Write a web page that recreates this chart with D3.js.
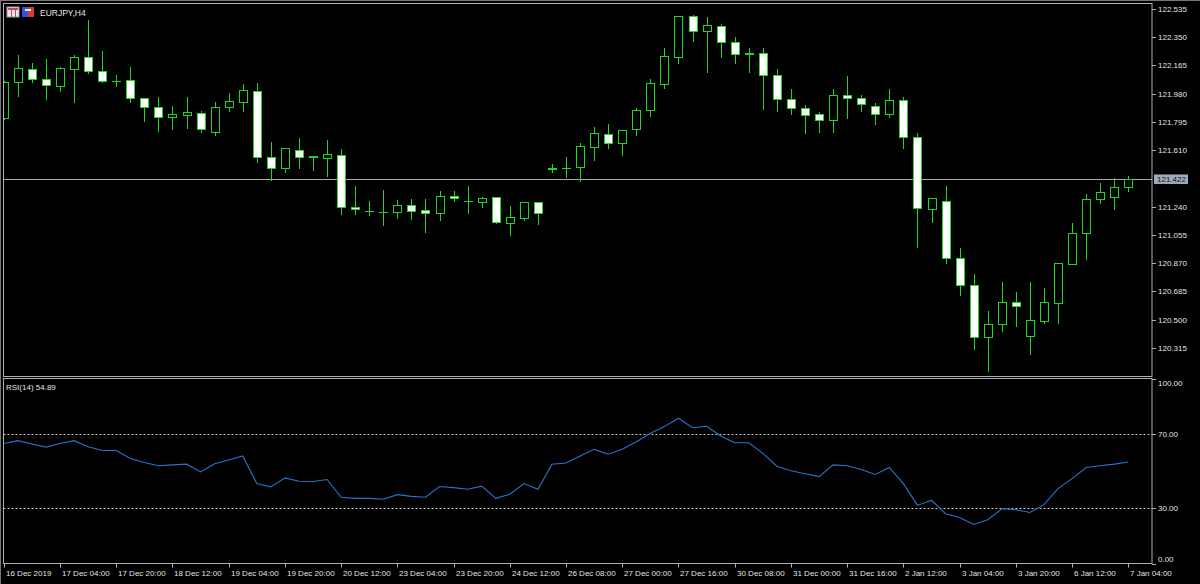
<!DOCTYPE html>
<html>
<head>
    <meta charset="utf-8">
    <title>EURJPY,H4</title>
    <style>
        body{margin:0;background:#000;}
        svg{display:block;}
        text{font-family:"Liberation Sans",Arial,sans-serif;font-size:8px;fill:#e4e4e4;}
    </style>
</head>
<body>
    <svg width="1200" height="584"></svg>
    <script src="https://d3js.org/d3.v7.min.js"></script>
    <script>
        // EURJPY H4, 16 Dec 2019 12:00 .. 7 Jan 2020 04:00 (81 bars)
        const openP = [121.819,122.055,122.142,122.075,122.033,122.142,122.219,122.131,122.066,122.070,
            121.954,121.891,121.826,121.843,121.856,121.728,121.891,121.928,122.000,121.564,
            121.492,121.610,121.570,121.561,121.579,121.236,121.214,121.208,121.204,121.252,
            121.219,121.201,121.310,121.280,121.273,121.302,121.136,121.168,121.269,121.492,
            121.496,121.502,121.633,121.716,121.660,121.751,121.872,122.046,122.223,122.489,
            122.389,122.426,122.317,122.245,122.245,122.103,121.948,121.885,121.846,121.810,
            121.970,121.954,121.900,121.846,121.937,121.699,121.223,121.276,120.902,120.728,
            120.389,120.470,120.618,120.396,120.494,120.612,120.865,121.066,121.291,121.302,
            121.371];
        const highP = [122.062,122.234,122.180,122.206,122.157,122.234,122.463,122.260,122.103,122.157,
            121.954,121.961,121.900,121.957,121.869,121.928,121.983,122.044,122.049,121.666,
            121.623,121.692,121.572,121.675,121.616,121.376,121.278,121.350,121.284,121.289,
            121.293,121.345,121.345,121.376,121.306,121.304,121.245,121.270,121.270,121.520,
            121.568,121.660,121.764,121.782,121.744,121.885,122.075,122.278,122.490,122.496,
            122.485,122.435,122.350,122.278,122.278,122.140,122.013,121.906,121.863,122.009,
            122.094,121.970,121.921,122.013,121.959,121.725,121.300,121.376,120.968,120.798,
            120.557,120.745,120.680,120.745,120.706,120.872,121.132,121.322,121.398,121.430,
            121.441];
        const lowP = [121.815,121.967,122.059,121.944,122.000,121.924,122.118,122.055,122.033,121.928,
            121.804,121.738,121.747,121.758,121.728,121.710,121.869,121.869,121.531,121.415,
            121.470,121.496,121.481,121.443,121.193,121.193,121.186,121.121,121.168,121.160,
            121.077,121.153,121.278,121.197,121.240,121.136,121.055,121.153,121.127,121.470,
            121.437,121.411,121.546,121.627,121.579,121.710,121.836,122.020,122.183,122.328,
            122.121,122.219,122.183,122.121,121.878,121.867,121.847,121.721,121.732,121.728,
            121.819,121.869,121.782,121.826,121.627,120.974,121.142,120.870,120.662,120.306,
            120.164,120.428,120.461,120.276,120.481,120.477,120.864,120.896,121.263,121.227,
            121.345];
        const closeP = [122.059,122.147,122.075,122.037,122.147,122.219,122.131,122.064,122.064,121.954,
            121.891,121.826,121.846,121.859,121.747,121.891,121.931,122.005,121.564,121.492,
            121.623,121.568,121.568,121.587,121.236,121.223,121.212,121.206,121.253,121.214,
            121.201,121.310,121.297,121.279,121.299,121.138,121.171,121.269,121.197,121.486,
            121.495,121.638,121.721,121.660,121.743,121.874,122.049,122.227,122.489,122.391,
            122.428,122.317,122.240,122.243,122.103,121.948,121.885,121.843,121.810,121.970,
            121.954,121.915,121.846,121.937,121.699,121.230,121.299,120.902,120.728,120.389,
            120.470,120.618,120.592,120.498,120.614,120.870,121.070,121.293,121.337,121.371,
            121.422];
        const rsi = [64.9,66.4,64.6,62.9,64.9,66.4,63.1,61.1,61.1,56.8,
            54.6,52.8,53.3,53.7,49.5,53.9,55.9,58.1,43.2,41.4,
            46.3,44.5,44.3,45.4,35.8,35.2,35.2,34.7,37.2,36.3,
            35.8,41.6,41.0,40.1,41.8,35.2,37.4,43.2,40.1,53.7,
            54.3,58.1,61.7,59.1,61.7,65.8,70.4,74.0,78.5,73.4,
            74.2,68.9,65.3,65.3,59.5,52.6,50.1,48.5,47.0,53.3,
            52.8,50.8,48.1,51.9,43.2,31.4,34.2,26.9,24.9,21.1,
            23.7,29.6,29.1,27.6,31.8,40.5,45.9,51.9,52.8,53.7,
            54.89];
        const priceTicks = [122.535,122.350,122.165,121.980,121.795,121.610,121.240,121.055,120.870,120.685,120.500,120.315];
        const lastPrice = 121.422;
        const rsiTicks = [100,70,30,0];
        const rsiLevels = [70,30];
        // one label every 4 bars
        const timeLabels = ['16 Dec 2019','17 Dec 04:00','17 Dec 20:00','18 Dec 12:00','19 Dec 04:00','19 Dec 20:00',
            '20 Dec 12:00','23 Dec 04:00','23 Dec 20:00','24 Dec 12:00','26 Dec 08:00','27 Dec 00:00','27 Dec 16:00',
            '30 Dec 08:00','31 Dec 00:00','31 Dec 16:00','2 Jan 12:00','3 Jan 04:00','3 Jan 20:00','6 Jan 12:00','7 Jan 04:00'];

        const svg = d3.select('svg');
        const green = '#22d422';
        const frame = '#b0b0b0';
        const main = {left:3.5, right:1152, top:3.5, bottom:376.5};
        const sub = {left:3.5, right:1152, top:378.5, bottom:563.5};

        const bars = d3.range(openP.length).map(i => ({
            i, o:openP[i], h:highP[i], l:lowP[i], c:closeP[i]
        }));

        const xScale = d3.scaleLinear().domain([0, bars.length - 1]).range([3.8, 1128.3]);
        const yScale = d3.scaleLinear().domain([120.315, 122.535]).range([348, 9]);
        const rScale = d3.scaleLinear().domain([0, 100]).range([sub.bottom, sub.top]);
        const px = v => Math.round(v) + 0.5;

        // outer window edge
        svg.append('line').attr('x1',0).attr('x2',1200).attr('y1',0.5).attr('y2',0.5).attr('stroke','#777');
        svg.append('line').attr('x1',0.5).attr('x2',0.5).attr('y1',0).attr('y2',584).attr('stroke','#777');

        svg.append('clipPath').attr('id','clipMain').append('rect')
            .attr('x',main.left+0.5).attr('y',main.top+0.5)
            .attr('width',main.right-main.left-1).attr('height',main.bottom-main.top-1);

        // last price line
        svg.append('line')
            .attr('x1',main.left).attr('x2',main.right)
            .attr('y1',px(yScale(lastPrice))).attr('y2',px(yScale(lastPrice)))
            .attr('stroke','#a8a8a8');

        const g = svg.append('g').attr('clip-path','url(#clipMain)');
        const candle = g.selectAll('g.bar').data(bars).enter().append('g').attr('class','bar');
        candle.append('line')
            .attr('x1',d => px(xScale(d.i))).attr('x2',d => px(xScale(d.i)))
            .attr('y1',d => Math.round(yScale(d.h))).attr('y2',d => Math.round(yScale(d.l)) + 1)
            .attr('stroke',green);
        candle.each(function(d){
            const sel = d3.select(this);
            const cx = px(xScale(d.i));
            const yo = Math.round(yScale(d.o)), yc = Math.round(yScale(d.c));
            if (Math.abs(yo - yc) < 1) {
                sel.append('line').attr('x1',cx-4.5).attr('x2',cx+4.5)
                    .attr('y1',yo+0.5).attr('y2',yo+0.5).attr('stroke',green);
            } else {
                sel.append('rect')
                    .attr('x',cx-4).attr('width',8)
                    .attr('y',Math.min(yo,yc)+0.5).attr('height',Math.abs(yo-yc))
                    .attr('fill',d.c > d.o ? '#000' : '#fff')
                    .attr('stroke',green);
            }
        });

        // panel frames
        svg.append('rect').attr('x',main.left).attr('y',main.top)
            .attr('width',main.right-main.left).attr('height',main.bottom-main.top)
            .attr('fill','none').attr('stroke',frame);
        svg.append('rect').attr('x',sub.left).attr('y',sub.top)
            .attr('width',sub.right-sub.left).attr('height',sub.bottom-sub.top)
            .attr('fill','none').attr('stroke',frame);

        // price axis
        const pAxis = svg.append('g');
        pAxis.selectAll('line').data(priceTicks).enter().append('line')
            .attr('x1',main.right).attr('x2',main.right+4)
            .attr('y1',d => px(yScale(d))).attr('y2',d => px(yScale(d)))
            .attr('stroke',frame);
        pAxis.selectAll('text').data(priceTicks).enter().append('text')
            .attr('x',main.right+6).attr('y',d => yScale(d)).attr('dy','0.35em')
            .text(d => d.toFixed(3));
        const ly = yScale(lastPrice);
        svg.append('rect').attr('x',main.right+2).attr('y',ly-4.5).attr('width',34).attr('height',9.5)
            .attr('fill','#9dabbb');
        svg.append('text').attr('x',main.right+5).attr('y',ly).attr('dy','0.35em')
            .style('fill','#101820').text(lastPrice.toFixed(3));

        // RSI
        svg.selectAll('line.level').data(rsiLevels).enter().append('line').attr('class','level')
            .attr('x1',sub.left).attr('x2',sub.right)
            .attr('y1',d => px(rScale(d))).attr('y2',d => px(rScale(d)))
            .attr('stroke','#c8c8c8').attr('stroke-dasharray','2,2');
        svg.append('path').datum(rsi)
            .attr('d',d3.line().x((d,i) => xScale(i)).y(d => rScale(d)))
            .attr('fill','none').attr('stroke','#2a74c8').attr('stroke-width',1.1);
        const rAxis = svg.append('g');
        rAxis.selectAll('line').data(rsiTicks).enter().append('line')
            .attr('x1',sub.right).attr('x2',sub.right+4)
            .attr('y1',d => px(rScale(d))).attr('y2',d => px(rScale(d)))
            .attr('stroke',frame);
        rAxis.selectAll('text').data(rsiTicks).enter().append('text')
            .attr('x',sub.right+6).attr('y',d => rScale(d))
            .attr('dy',d => d === 100 ? '0.9em' : d === 0 ? '-0.25em' : '0.35em')
            .text(d => d.toFixed(2));
        svg.append('text').attr('x',6).attr('y',sub.top+11).text('RSI(14) ' + rsi[rsi.length-1].toFixed(2));

        // time axis
        const tAxis = svg.append('g');
        tAxis.selectAll('line').data(timeLabels).enter().append('line')
            .attr('x1',(d,k) => px(xScale(k*4))).attr('x2',(d,k) => px(xScale(k*4)))
            .attr('y1',sub.bottom).attr('y2',sub.bottom+4)
            .attr('stroke',frame);
        tAxis.selectAll('text').data(timeLabels).enter().append('text')
            .attr('x',(d,k) => Math.round(xScale(k*4)) + 2).attr('y',576)
            .text(d => d);

        // title with the two little toolbar icons
        const icons = svg.append('g').attr('transform','translate(7,7)');
        icons.append('rect').attr('width',12).attr('height',10).attr('fill','#e8e8f4').attr('stroke','#9a9ab8');
        icons.append('rect').attr('x',1).attr('y',1).attr('width',10).attr('height',2).attr('fill','#d84040');
        icons.append('rect').attr('x',4).attr('y',3).attr('width',1).attr('height',7).attr('fill','#d84040');
        icons.append('rect').attr('x',8).attr('y',3).attr('width',1).attr('height',7).attr('fill','#d84040');
        icons.append('rect').attr('x',15).attr('width',6).attr('height',10).attr('fill','#3a50d8');
        icons.append('rect').attr('x',21).attr('width',6).attr('height',10).attr('fill','#d83a3a');
        icons.append('rect').attr('x',18).attr('y',2).attr('width',6).attr('height',2).attr('fill','#f0f0f0');
        svg.append('text').attr('x',40).attr('y',16).style('font-size','8.5px').text('EURJPY,H4');
    </script>
</body>
</html>
